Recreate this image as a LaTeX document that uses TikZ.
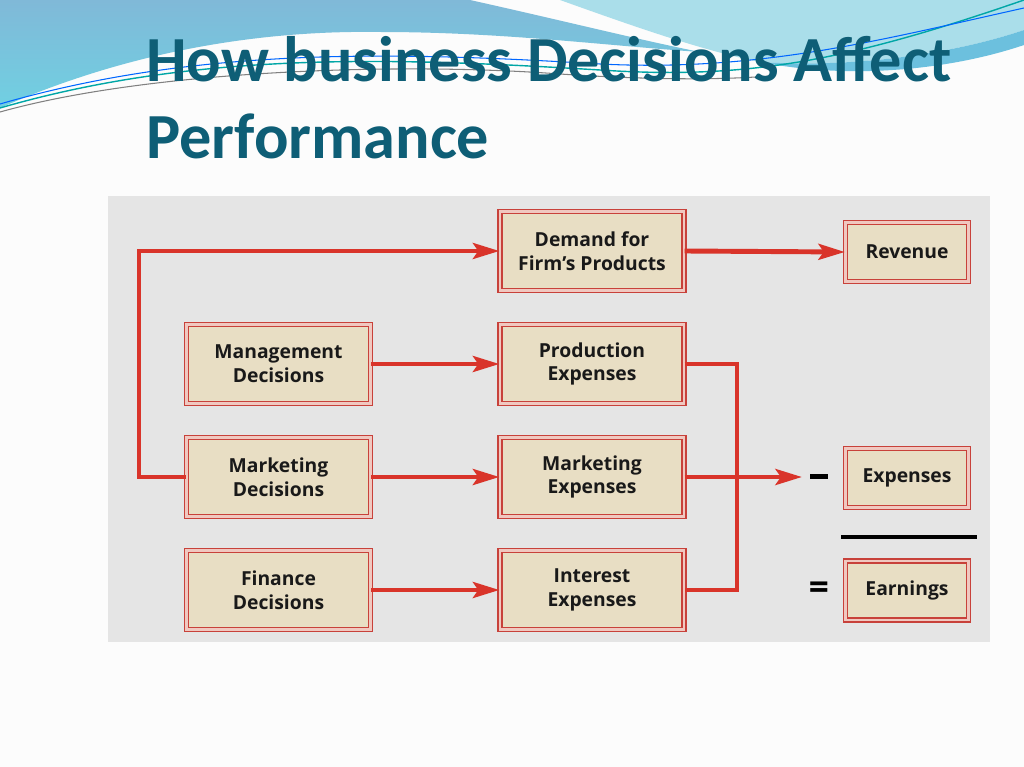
\documentclass[tikz,border=0pt]{standalone}
\usepackage{fontspec}
\setmainfont{Open Sans}
\newfontfamily\titlefont{Carlito}
\usetikzlibrary{arrows.meta}
\definecolor{titleblue}{RGB}{14,94,118}
\definecolor{panelgray}{RGB}{229,229,229}
\definecolor{boxtan}{RGB}{232,222,196}
\definecolor{boxred}{RGB}{200,65,58}
\definecolor{boxpink}{RGB}{240,200,192}
\definecolor{arrowred}{RGB}{217,52,42}
\definecolor{swooshblue}{RGB}{128,185,216}
\definecolor{swooshcyan}{RGB}{112,208,226}
\definecolor{swooshlight}{RGB}{170,222,234}
\definecolor{swooshmid}{RGB}{108,192,222}
\tikzset{
  fbox/.style={draw=boxred,double=boxpink,double distance=1.6pt,line width=0.7pt,fill=boxtan,
    minimum width=3.68cm,minimum height=1.58cm,align=center,text=black!90,
    font=\bfseries\fontsize{11}{13.6}\selectfont},
  sbox/.style={fbox,minimum width=2.46cm,minimum height=1.18cm},
  flow/.style={draw=arrowred,line width=2.8pt},
  sign/.style={font=\bfseries\fontsize{20}{20}\selectfont,inner sep=0pt}
}
\begin{document}
\begin{tikzpicture}[line cap=butt,line join=miter,>={Stealth[length=15pt,width=9pt,inset=3pt]},x=0.02cm,y=-0.02cm]
\useasboundingbox (0,0) rectangle (1024,767);
\fill[white!99!black] (0,0) rectangle (1024,767);
% swooshes at the top
\shade[top color=swooshblue,bottom color=swooshcyan] (0,0) -- (470,0) .. controls (560,20) and (640,40) .. (700,52) .. controls (600,45) and (500,32) .. (380,32) .. controls (250,30) and (120,55) .. (0,108) -- cycle;
\fill[swooshlight] (560,0) -- (1024,0) -- (1024,30) .. controls (950,55) and (850,68) .. (760,62) .. controls (700,50) and (630,25) .. (560,0) -- cycle;
\fill[swooshmid] (760,62) .. controls (850,68) and (950,55) .. (1024,30) -- (1024,45) .. controls (950,70) and (850,80) .. (760,62) -- cycle;
\draw[line width=0.8pt,color=teal!70!cyan] (0,108) .. controls (200,50) and (400,58) .. (600,70) .. controls (750,80) and (850,60) .. (1024,0);
\draw[line width=0.6pt,color=blue!60!cyan] (0,104) .. controls (200,46) and (400,52) .. (600,64) .. controls (760,72) and (880,40) .. (1024,8);
\draw[line width=0.6pt,color=gray] (0,112) .. controls (150,70) and (400,62) .. (560,74) .. controls (650,80) and (720,80) .. (770,76);
% title
\node[anchor=base west,inner sep=0pt,font=\titlefont\bfseries\fontsize{36.6}{43}\selectfont,text=titleblue] (title) at (146,82) {How business Decisions Affect};
\node[anchor=base west,inner sep=0pt,font=\titlefont\bfseries\fontsize{36.6}{43}\selectfont,text=titleblue] (title2) at (146,158) {Performance};
% panel
\fill[panelgray] (108,196) rectangle (990,642);
% boxes
\node[fbox] (demand) at (592,251) {Demand for\\Firm’s Products};
\node[sbox] (revenue) at (907,252) {Revenue};
\node[fbox] (mgmt) at (278.5,364) {Management\\Decisions};
\node[fbox] (prod) at (592,364) {Production\\Expenses};
\node[fbox] (mktd) at (278.5,477) {Marketing\\Decisions};
\node[fbox] (mkte) at (592,477) {Marketing\\Expenses};
\node[sbox] (expenses) at (907,478) {Expenses};
\node[fbox] (finance) at (278.5,590) {Finance\\Decisions};
\node[fbox] (interest) at (592,590) {Interest\\Expenses};
\node[sbox] (earnings) at (907,590.5) {Earnings};
\node[sign] (minus) at (819,476.5) {\rule{10pt}{2.4pt}};
\node[sign] (equals) at (819,591) {=};
\coordinate (lft) at (139,477);
\coordinate (joint) at (737,477);
\coordinate (tip) at (802,477);
% connectors
\draw[flow,->] (demand.east) -- (revenue.west);
\draw[flow,->] (mgmt.east) -- (prod.west);
\draw[flow,->] (mktd.east) -- (mkte.west);
\draw[flow,->] (finance.east) -- (interest.west);
\draw[flow,->] (mktd.west) -- (lft) |- (demand.west);
\draw[flow] (prod.east) -| (joint) |- (interest.east);
\draw[flow,->] (mkte.east) -- (tip);
\draw[line width=2.8pt] (841,537) -- (977,537);
\end{tikzpicture}
\end{document}
